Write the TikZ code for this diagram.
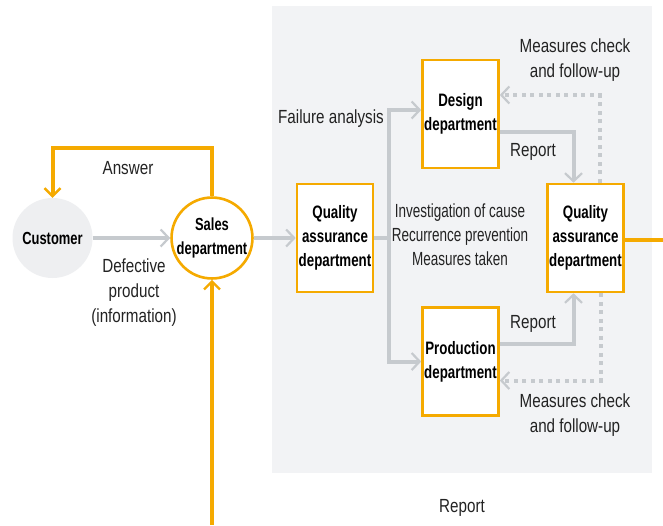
\documentclass[tikz,border=0pt]{standalone}
\usepackage{fontspec}
\setmainfont{Liberation Sans}[FakeStretch=0.8]
\newfontfamily\boxfont{Liberation Sans}[FakeStretch=0.74]
\newfontfamily\narrowfont{Liberation Sans}[FakeStretch=0.71]
\usetikzlibrary{arrows.meta}
\definecolor{qorange}{RGB}{245,170,0}
\definecolor{qgray}{RGB}{198,202,206}
\definecolor{bggray}{RGB}{242,243,245}
\definecolor{custfill}{RGB}{238,239,241}
\definecolor{txt}{RGB}{35,35,35}
\tikzset{
  chev/.tip={Straight Barb[length=8pt,width=17pt,line width=2.2pt]},
  grayline/.style={draw=qgray,line width=4pt},
  grayarrow/.style={grayline,-chev},
  dotline/.style={draw=qgray,line width=4pt,dash pattern=on 4pt off 4.5pt,-chev},
  orangeline/.style={draw=qorange,line width=4pt},
  orangearrow/.style={orangeline,-{Straight Barb[length=8pt,width=16pt,line width=2.4pt]}},
  dept/.style={draw=qorange,line width=2.6pt,fill=white,minimum width=76pt,minimum height=108pt,
    inner sep=0pt,align=center,text=black,font=\boxfont\bfseries\fontsize{18}{24}\selectfont},
  circ/.style={circle,minimum size=80pt,inner sep=0pt,align=center,text=black,
    font=\boxfont\bfseries\fontsize{17.5}{24}\selectfont},
  lab/.style={inner sep=0pt,align=center,text=txt,font=\fontsize{19}{25}\selectfont},
}
\begin{document}
\begin{tikzpicture}[x=1pt,y=-1pt]
\useasboundingbox (0,0) rectangle (663,525);
\fill[white] (0,0) rectangle (663,525);
\fill[bggray] (272,6) rectangle (652,473);
% nodes
\node[circ,fill=custfill] (cust) at (52.5,238) {Customer};
\node[circ,draw=qorange,line width=2.6pt,fill=white] (sales) at (212,238) {Sales\\department};
\node[dept] (qa1) at (335,238) {Quality\\assurance\\department};
\node[dept] (design) at (460.5,114) {Design\\department};
\node[dept] (prod) at (460.5,361.5) {Production\\department};
\node[dept] (qa2) at (585.5,238) {Quality\\assurance\\department};
\coordinate (bottom) at (212,525);
\coordinate (rightend) at (663,240);
\coordinate (br) at (389,238);
% connectors
\draw[orangearrow] (sales.north) -- ++(0,-48) -| (cust.north);
\draw[orangearrow] (bottom) -- (sales.south);
\draw[orangeline] ([yshift=-2pt]qa2.east) -- (rightend);
\draw[grayarrow] (cust.east) -- (sales.west);
\draw[grayarrow] (sales.east) -- (qa1.west);
\draw[grayline] (qa1.east) -- (br);
\draw[grayarrow] (br) |- ([yshift=4pt]design.west);
\draw[grayarrow] (br) |- (prod.west);
\draw[grayarrow] ([yshift=-18pt]design.east) -| ([xshift=-12pt]qa2.north);
\draw[grayarrow] ([yshift=18pt]prod.east) -| ([xshift=-12pt]qa2.south);
\draw[dotline] ([xshift=14pt]qa2.north) |- ([yshift=19pt]design.east);
\draw[dotline] ([xshift=15pt]qa2.south) |- ([yshift=-19pt]prod.east);
% labels
\node[lab] (answer) at (128,168) {Answer};
\node[lab] (defect) at (134,293) {Defective\\product\\(information)};
\node[lab] (failure) at (331,119) {Failure analysis};
\node[lab,font=\narrowfont\fontsize{19}{24}\selectfont] (invest) at (460,235) {Investigation of cause\\Recurrence prevention\\Measures taken};
\node[lab] (rep1) at (533,152) {Report};
\node[lab] (rep2) at (533,324) {Report};
\node[lab] (meas1) at (575,60) {Measures check\\and follow-up};
\node[lab] (meas2) at (575,415) {Measures check\\and follow-up};
\node[lab] (rep3) at (462,508) {Report};
\end{tikzpicture}
\end{document}
